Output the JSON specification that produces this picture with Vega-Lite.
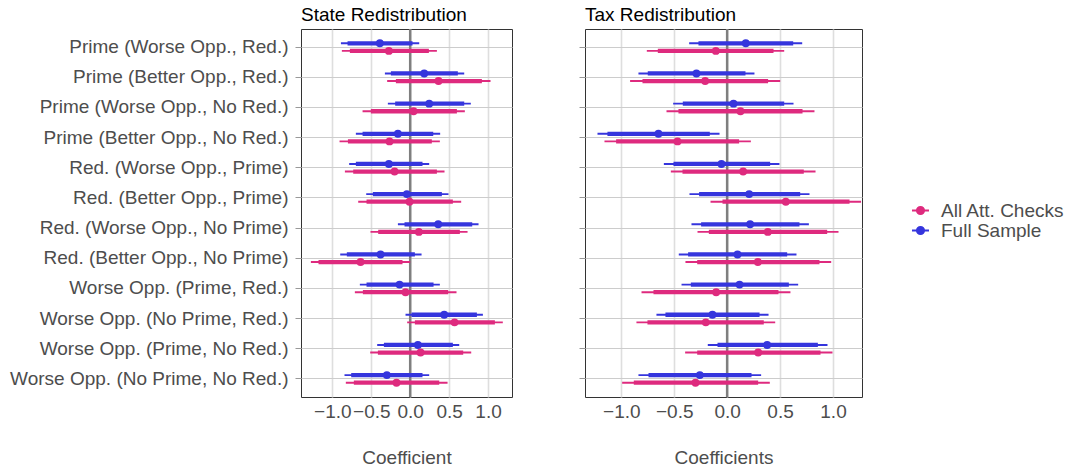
{
  "$schema": "https://vega.github.io/schema/vega-lite/v6.json",
  "padding": {"left": 5, "top": 5, "right": 5, "bottom": 5},
  "background": "white",
  "config": {
    "font": "Liberation Sans",
    "view": {"stroke": "#333333", "strokeWidth": 1},
    "title": {"font": "Liberation Sans"},
    "axis": {"labelFont": "Liberation Sans", "titleFont": "Liberation Sans"},
    "axisX": {"labelFontSize": 19, "labelColor": "#4d4d4d", "ticks": false, "domain": false, "grid": true, "gridColor": "#dedede", "gridWidth": 1.6, "labelPadding": 5, "titlePadding": 27, "titleFontSize": 19, "titleFontWeight": "normal", "titleColor": "#4d4d4d"}
  },
  "datasets": {
    "coef": [
      {"panel": "State", "term": "Prime (Worse Opp., Red.)", "sample": "Full Sample", "est": -0.39, "lo95": -0.89, "hi95": 0.116, "lo90": -0.805, "hi90": 0.03},
      {"panel": "State", "term": "Prime (Worse Opp., Red.)", "sample": "All Att. Checks", "est": -0.274, "lo95": -0.878, "hi95": 0.343, "lo90": -0.775, "hi90": 0.24},
      {"panel": "State", "term": "Prime (Better Opp., Red.)", "sample": "Full Sample", "est": 0.18, "lo95": -0.325, "hi95": 0.694, "lo90": -0.248, "hi90": 0.612},
      {"panel": "State", "term": "Prime (Better Opp., Red.)", "sample": "All Att. Checks", "est": 0.364, "lo95": -0.296, "hi95": 1.032, "lo90": -0.184, "hi90": 0.921},
      {"panel": "State", "term": "Prime (Worse Opp., No Red.)", "sample": "Full Sample", "est": 0.244, "lo95": -0.287, "hi95": 0.779, "lo90": -0.193, "hi90": 0.694},
      {"panel": "State", "term": "Prime (Worse Opp., No Red.)", "sample": "All Att. Checks", "est": 0.043, "lo95": -0.612, "hi95": 0.702, "lo90": -0.505, "hi90": 0.6},
      {"panel": "State", "term": "Prime (Better Opp., No Red.)", "sample": "Full Sample", "est": -0.158, "lo95": -0.698, "hi95": 0.385, "lo90": -0.612, "hi90": 0.296},
      {"panel": "State", "term": "Prime (Better Opp., No Red.)", "sample": "All Att. Checks", "est": -0.266, "lo95": -0.908, "hi95": 0.381, "lo90": -0.8, "hi90": 0.278},
      {"panel": "State", "term": "Red. (Worse Opp., Prime)", "sample": "Full Sample", "est": -0.274, "lo95": -0.784, "hi95": 0.244, "lo90": -0.698, "hi90": 0.158},
      {"panel": "State", "term": "Red. (Worse Opp., Prime)", "sample": "All Att. Checks", "est": -0.201, "lo95": -0.839, "hi95": 0.441, "lo90": -0.732, "hi90": 0.343},
      {"panel": "State", "term": "Red. (Better Opp., Prime)", "sample": "Full Sample", "est": -0.043, "lo95": -0.565, "hi95": 0.492, "lo90": -0.48, "hi90": 0.407},
      {"panel": "State", "term": "Red. (Better Opp., Prime)", "sample": "All Att. Checks", "est": -0.009, "lo95": -0.668, "hi95": 0.655, "lo90": -0.561, "hi90": 0.548},
      {"panel": "State", "term": "Red. (Worse Opp., No Prime)", "sample": "Full Sample", "est": 0.36, "lo95": -0.158, "hi95": 0.878, "lo90": -0.073, "hi90": 0.797},
      {"panel": "State", "term": "Red. (Worse Opp., No Prime)", "sample": "All Att. Checks", "est": 0.111, "lo95": -0.51, "hi95": 0.737, "lo90": -0.411, "hi90": 0.638},
      {"panel": "State", "term": "Red. (Better Opp., No Prime)", "sample": "Full Sample", "est": -0.381, "lo95": -0.899, "hi95": 0.146, "lo90": -0.814, "hi90": 0.06},
      {"panel": "State", "term": "Red. (Better Opp., No Prime)", "sample": "All Att. Checks", "est": -0.638, "lo95": -1.276, "hi95": 0.0, "lo90": -1.178, "hi90": -0.099},
      {"panel": "State", "term": "Worse Opp. (Prime, Red.)", "sample": "Full Sample", "est": -0.137, "lo95": -0.647, "hi95": 0.381, "lo90": -0.561, "hi90": 0.3},
      {"panel": "State", "term": "Worse Opp. (Prime, Red.)", "sample": "All Att. Checks", "est": -0.06, "lo95": -0.711, "hi95": 0.595, "lo90": -0.608, "hi90": 0.488},
      {"panel": "State", "term": "Worse Opp. (No Prime, Red.)", "sample": "Full Sample", "est": 0.437, "lo95": -0.06, "hi95": 0.934, "lo90": 0.017, "hi90": 0.857},
      {"panel": "State", "term": "Worse Opp. (No Prime, Red.)", "sample": "All Att. Checks", "est": 0.57, "lo95": -0.039, "hi95": 1.19, "lo90": 0.06, "hi90": 1.088},
      {"panel": "State", "term": "Worse Opp. (Prime, No Red.)", "sample": "Full Sample", "est": 0.099, "lo95": -0.424, "hi95": 0.63, "lo90": -0.338, "hi90": 0.548},
      {"panel": "State", "term": "Worse Opp. (Prime, No Red.)", "sample": "All Att. Checks", "est": 0.133, "lo95": -0.514, "hi95": 0.784, "lo90": -0.415, "hi90": 0.681},
      {"panel": "State", "term": "Worse Opp. (No Prime, No Red.)", "sample": "Full Sample", "est": -0.3, "lo95": -0.844, "hi95": 0.244, "lo90": -0.758, "hi90": 0.158},
      {"panel": "State", "term": "Worse Opp. (No Prime, No Red.)", "sample": "All Att. Checks", "est": -0.176, "lo95": -0.827, "hi95": 0.48, "lo90": -0.724, "hi90": 0.373},
      {"panel": "Tax", "term": "Prime (Worse Opp., Red.)", "sample": "Full Sample", "est": 0.176, "lo95": -0.359, "hi95": 0.709, "lo90": -0.271, "hi90": 0.624},
      {"panel": "Tax", "term": "Prime (Worse Opp., Red.)", "sample": "All Att. Checks", "est": -0.107, "lo95": -0.759, "hi95": 0.539, "lo90": -0.655, "hi90": 0.438},
      {"panel": "Tax", "term": "Prime (Better Opp., Red.)", "sample": "Full Sample", "est": -0.29, "lo95": -0.838, "hi95": 0.258, "lo90": -0.75, "hi90": 0.173},
      {"panel": "Tax", "term": "Prime (Better Opp., Red.)", "sample": "All Att. Checks", "est": -0.208, "lo95": -0.917, "hi95": 0.501, "lo90": -0.8, "hi90": 0.387},
      {"panel": "Tax", "term": "Prime (Worse Opp., No Red.)", "sample": "Full Sample", "est": 0.06, "lo95": -0.51, "hi95": 0.627, "lo90": -0.419, "hi90": 0.539},
      {"panel": "Tax", "term": "Prime (Worse Opp., No Red.)", "sample": "All Att. Checks", "est": 0.126, "lo95": -0.573, "hi95": 0.825, "lo90": -0.46, "hi90": 0.712},
      {"panel": "Tax", "term": "Prime (Better Opp., No Red.)", "sample": "Full Sample", "est": -0.649, "lo95": -1.225, "hi95": -0.072, "lo90": -1.131, "hi90": -0.164},
      {"panel": "Tax", "term": "Prime (Better Opp., No Red.)", "sample": "All Att. Checks", "est": -0.469, "lo95": -1.159, "hi95": 0.224, "lo90": -1.049, "hi90": 0.113},
      {"panel": "Tax", "term": "Red. (Worse Opp., Prime)", "sample": "Full Sample", "est": -0.054, "lo95": -0.598, "hi95": 0.494, "lo90": -0.507, "hi90": 0.406},
      {"panel": "Tax", "term": "Red. (Worse Opp., Prime)", "sample": "All Att. Checks", "est": 0.151, "lo95": -0.532, "hi95": 0.835, "lo90": -0.422, "hi90": 0.724},
      {"panel": "Tax", "term": "Red. (Better Opp., Prime)", "sample": "Full Sample", "est": 0.208, "lo95": -0.356, "hi95": 0.778, "lo90": -0.265, "hi90": 0.69},
      {"panel": "Tax", "term": "Red. (Better Opp., Prime)", "sample": "All Att. Checks", "est": 0.554, "lo95": -0.157, "hi95": 1.265, "lo90": -0.044, "hi90": 1.156},
      {"panel": "Tax", "term": "Red. (Worse Opp., No Prime)", "sample": "Full Sample", "est": 0.217, "lo95": -0.337, "hi95": 0.772, "lo90": -0.246, "hi90": 0.683},
      {"panel": "Tax", "term": "Red. (Worse Opp., No Prime)", "sample": "All Att. Checks", "est": 0.384, "lo95": -0.28, "hi95": 1.052, "lo90": -0.173, "hi90": 0.945},
      {"panel": "Tax", "term": "Red. (Better Opp., No Prime)", "sample": "Full Sample", "est": 0.098, "lo95": -0.457, "hi95": 0.655, "lo90": -0.369, "hi90": 0.567},
      {"panel": "Tax", "term": "Red. (Better Opp., No Prime)", "sample": "All Att. Checks", "est": 0.29, "lo95": -0.394, "hi95": 0.983, "lo90": -0.283, "hi90": 0.872},
      {"panel": "Tax", "term": "Worse Opp. (Prime, Red.)", "sample": "Full Sample", "est": 0.117, "lo95": -0.431, "hi95": 0.671, "lo90": -0.343, "hi90": 0.583},
      {"panel": "Tax", "term": "Worse Opp. (Prime, Red.)", "sample": "All Att. Checks", "est": -0.104, "lo95": -0.809, "hi95": 0.598, "lo90": -0.696, "hi90": 0.485},
      {"panel": "Tax", "term": "Worse Opp. (No Prime, Red.)", "sample": "Full Sample", "est": -0.139, "lo95": -0.668, "hi95": 0.391, "lo90": -0.583, "hi90": 0.306},
      {"panel": "Tax", "term": "Worse Opp. (No Prime, Red.)", "sample": "All Att. Checks", "est": -0.202, "lo95": -0.857, "hi95": 0.454, "lo90": -0.753, "hi90": 0.346},
      {"panel": "Tax", "term": "Worse Opp. (Prime, No Red.)", "sample": "Full Sample", "est": 0.378, "lo95": -0.183, "hi95": 0.948, "lo90": -0.091, "hi90": 0.857},
      {"panel": "Tax", "term": "Worse Opp. (Prime, No Red.)", "sample": "All Att. Checks", "est": 0.293, "lo95": -0.397, "hi95": 0.995, "lo90": -0.283, "hi90": 0.882},
      {"panel": "Tax", "term": "Worse Opp. (No Prime, No Red.)", "sample": "Full Sample", "est": -0.258, "lo95": -0.838, "hi95": 0.321, "lo90": -0.743, "hi90": 0.23},
      {"panel": "Tax", "term": "Worse Opp. (No Prime, No Red.)", "sample": "All Att. Checks", "est": -0.299, "lo95": -0.992, "hi95": 0.403, "lo90": -0.882, "hi90": 0.293}
    ],
    "zero": [{"ref": 0}]
  },
  "hconcat": [
    {
      "width": 211,
      "height": 368,
      "title": {"text": "State Redistribution", "anchor": "start", "frame": "group", "fontSize": 19, "fontWeight": "normal", "color": "#000000", "offset": 3},
      "layer": [
        {
          "data": {"name": "zero"},
          "mark": {"type": "rule", "color": "#7f7f7f", "strokeWidth": 2.5},
          "encoding": {
            "x": {"field": "ref", "type": "quantitative", "scale": {"domain": [-1.403, 1.308], "nice": false, "zero": false},
              "axis": {"title": "Coefficient", "values": [-1, -0.5, 0, 0.5, 1], "format": ".1f"}}
          }
        },
        {
          "data": {"name": "coef"},
          "transform": [{"filter": "datum.panel === 'State'"}],
          "encoding": {
            "y": {"field": "term", "type": "nominal",
              "scale": {"domain": ["Prime (Worse Opp., Red.)", "Prime (Better Opp., Red.)", "Prime (Worse Opp., No Red.)", "Prime (Better Opp., No Red.)", "Red. (Worse Opp., Prime)", "Red. (Better Opp., Prime)", "Red. (Worse Opp., No Prime)", "Red. (Better Opp., No Prime)", "Worse Opp. (Prime, Red.)", "Worse Opp. (No Prime, Red.)", "Worse Opp. (Prime, No Red.)", "Worse Opp. (No Prime, No Red.)"], "paddingInner": 0, "paddingOuter": 0.1},
              "axis": {"title": null, "labelFontSize": 19, "labelColor": "#4d4d4d", "labelLimit": 500, "tickColor": "#999999", "tickSize": 6, "labelPadding": 7, "domain": false, "grid": true, "gridColor": "#cccccc", "gridWidth": 1.2, "bandPosition": 0.5, "minExtent": 295, "maxExtent": 295}},
            "yOffset": {"field": "sample", "type": "nominal", "scale": {"domain": ["Full Sample", "All Att. Checks"], "paddingInner": 0, "paddingOuter": 0.985}},
            "color": {"field": "sample", "type": "nominal", "scale": {"domain": ["All Att. Checks", "Full Sample"], "range": ["#de2a7e", "#3535dd"]},
              "legend": {"title": null, "orient": "none", "legendX": 610, "legendY": 172, "labelFontSize": 19, "labelColor": "#4d4d4d", "symbolType": "M-1,0L1,0M0.42,0A0.42,0.42,0,1,1,-0.42,0A0.42,0.42,0,1,1,0.42,0Z", "symbolSize": 289, "symbolStrokeWidth": 2, "labelOffset": 11, "rowPadding": -1,
                "encode": {"symbols": {"update": {"stroke": {"scale": "color", "field": "value"}, "fill": {"scale": "color", "field": "value"}, "strokeWidth": {"value": 2}, "opacity": {"value": 1}}}}}}
          },
          "layer": [
            {"mark": {"type": "rule", "strokeWidth": 1.9, "clip": true}, "encoding": {"x": {"field": "lo95", "type": "quantitative", "axis": {"title": "Coefficient", "values": [-1, -0.5, 0, 0.5, 1], "format": ".1f"}}, "x2": {"field": "hi95"}}},
            {"mark": {"type": "rule", "strokeWidth": 4.3, "clip": true}, "encoding": {"x": {"field": "lo90", "type": "quantitative", "axis": {"title": "Coefficient", "values": [-1, -0.5, 0, 0.5, 1], "format": ".1f"}}, "x2": {"field": "hi90"}}},
            {"mark": {"type": "point", "filled": true, "size": 62, "opacity": 1, "clip": true}, "encoding": {"x": {"field": "est", "type": "quantitative", "axis": {"title": "Coefficient", "values": [-1, -0.5, 0, 0.5, 1], "format": ".1f"}}}}
          ]
        }
      ]
    },
    {
      "width": 277,
      "height": 368,
      "title": {"text": "Tax Redistribution", "anchor": "start", "frame": "group", "fontSize": 19, "fontWeight": "normal", "color": "#000000", "offset": 3},
      "layer": [
        {
          "data": {"name": "zero"},
          "mark": {"type": "rule", "color": "#7f7f7f", "strokeWidth": 2.5},
          "encoding": {
            "x": {"field": "ref", "type": "quantitative", "scale": {"domain": [-1.343, 1.274], "nice": false, "zero": false},
              "axis": {"title": "Coefficients", "values": [-1, -0.5, 0, 0.5, 1], "format": ".1f"}}
          }
        },
        {
          "data": {"name": "coef"},
          "transform": [{"filter": "datum.panel === 'Tax'"}],
          "encoding": {
            "y": {"field": "term", "type": "nominal",
              "scale": {"domain": ["Prime (Worse Opp., Red.)", "Prime (Better Opp., Red.)", "Prime (Worse Opp., No Red.)", "Prime (Better Opp., No Red.)", "Red. (Worse Opp., Prime)", "Red. (Better Opp., Prime)", "Red. (Worse Opp., No Prime)", "Red. (Better Opp., No Prime)", "Worse Opp. (Prime, Red.)", "Worse Opp. (No Prime, Red.)", "Worse Opp. (Prime, No Red.)", "Worse Opp. (No Prime, No Red.)"], "paddingInner": 0, "paddingOuter": 0.1},
              "axis": {"title": null, "labels": false, "tickColor": "#999999", "tickSize": 6, "domain": false, "grid": true, "gridColor": "#cccccc", "gridWidth": 1.2, "bandPosition": 0.5, "minExtent": 6, "maxExtent": 6}},
            "yOffset": {"field": "sample", "type": "nominal", "scale": {"domain": ["Full Sample", "All Att. Checks"], "paddingInner": 0, "paddingOuter": 0.985}},
            "color": {"field": "sample", "type": "nominal", "scale": {"domain": ["All Att. Checks", "Full Sample"], "range": ["#de2a7e", "#3535dd"]},
              "legend": {"title": null, "orient": "none", "legendX": 610, "legendY": 172, "labelFontSize": 19, "labelColor": "#4d4d4d", "symbolType": "M-1,0L1,0M0.42,0A0.42,0.42,0,1,1,-0.42,0A0.42,0.42,0,1,1,0.42,0Z", "symbolSize": 289, "symbolStrokeWidth": 2, "labelOffset": 11, "rowPadding": -1,
                "encode": {"symbols": {"update": {"stroke": {"scale": "color", "field": "value"}, "fill": {"scale": "color", "field": "value"}, "strokeWidth": {"value": 2}, "opacity": {"value": 1}}}}}}
          },
          "layer": [
            {"mark": {"type": "rule", "strokeWidth": 1.9, "clip": true}, "encoding": {"x": {"field": "lo95", "type": "quantitative", "axis": {"title": "Coefficients", "values": [-1, -0.5, 0, 0.5, 1], "format": ".1f"}}, "x2": {"field": "hi95"}}},
            {"mark": {"type": "rule", "strokeWidth": 4.3, "clip": true}, "encoding": {"x": {"field": "lo90", "type": "quantitative", "axis": {"title": "Coefficients", "values": [-1, -0.5, 0, 0.5, 1], "format": ".1f"}}, "x2": {"field": "hi90"}}},
            {"mark": {"type": "point", "filled": true, "size": 62, "opacity": 1, "clip": true}, "encoding": {"x": {"field": "est", "type": "quantitative", "axis": {"title": "Coefficients", "values": [-1, -0.5, 0, 0.5, 1], "format": ".1f"}}}}
          ]
        }
      ]
    }
  ],
  "spacing": 65,
  "resolve": {"scale": {"color": "shared"}, "legend": {"color": "shared"}}
}
